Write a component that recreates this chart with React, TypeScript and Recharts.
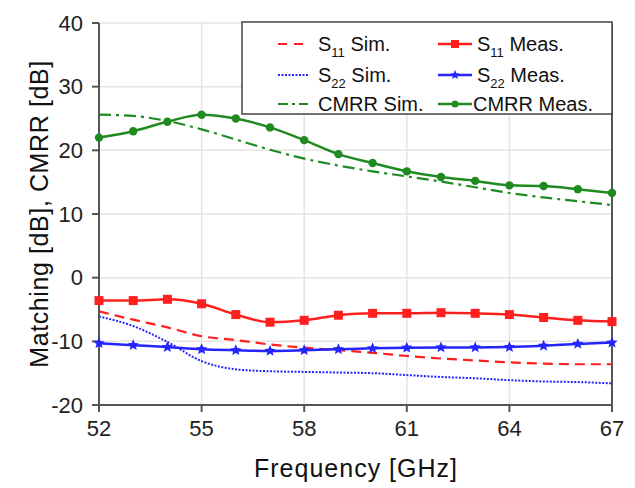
import { CartesianGrid, Line, LineChart, ReferenceLine, XAxis, YAxis } from "recharts";

const freqs = [52, 53, 54, 55, 56, 57, 58, 59, 60, 61, 62, 63, 64, 65, 66, 67];
const s11Sim = [-5.3, -6.6, -7.8, -9.2, -9.8, -10.5, -11.0, -11.4, -11.8, -12.3, -12.7, -13.0, -13.3, -13.5, -13.6, -13.6];
const s11Meas = [-3.6, -3.6, -3.4, -4.1, -5.8, -7.0, -6.7, -5.9, -5.6, -5.6, -5.5, -5.6, -5.8, -6.25, -6.7, -6.9];
const s22Sim = [-6.1, -7.6, -10.1, -13.1, -14.4, -14.7, -14.8, -14.9, -15.0, -15.3, -15.6, -15.8, -16.1, -16.3, -16.4, -16.6];
const s22Meas = [-10.3, -10.6, -10.9, -11.25, -11.4, -11.5, -11.4, -11.25, -11.1, -11.0, -10.95, -10.95, -10.9, -10.7, -10.4, -10.2];
const cmrrSim = [25.6, 25.4, 24.6, 23.3, 21.7, 20.1, 18.7, 17.6, 16.7, 15.9, 15.1, 14.2, 13.3, 12.6, 12.0, 11.4];
const cmrrMeas = [22.0, 23.0, 24.5, 25.6, 25.0, 23.6, 21.6, 19.4, 18.0, 16.7, 15.8, 15.2, 14.5, 14.4, 13.9, 13.3];

const xTicks = [52, 55, 58, 61, 64, 67];
const yTicks = [-20, -10, 0, 10, 20, 30, 40];

const data = freqs.map((f, i) => ({
  f,
  s11Sim: s11Sim[i],
  s11Meas: s11Meas[i],
  s22Sim: s22Sim[i],
  s22Meas: s22Meas[i],
  cmrrSim: cmrrSim[i],
  cmrrMeas: cmrrMeas[i],
}));

const RED = "#ff1f1f";
const BLUE = "#2424ff";
const GREEN = "#1f8a1f";
const FONT = "Liberation Sans, Arial, sans-serif";

const starPoints = (cx: number, cy: number, r: number) => {
  const pts: string[] = [];
  for (let k = 0; k < 10; k++) {
    const rr = k % 2 === 0 ? r : r * 0.45;
    const a = -Math.PI / 2 + (k * Math.PI) / 5;
    pts.push(`${cx + rr * Math.cos(a)},${cy + rr * Math.sin(a)}`);
  }
  return pts.join(" ");
};

const SquareDot = (p: any) => <rect key={`sq${p.index}`} x={p.cx - 4.5} y={p.cy - 4.5} width={9} height={9} fill={RED} />;
const StarDot = (p: any) => <polygon key={`st${p.index}`} points={starPoints(p.cx, p.cy, 6)} fill={BLUE} />;
const CircleDot = (p: any) => <circle key={`ci${p.index}`} cx={p.cx} cy={p.cy} r={4.2} fill={GREEN} />;

const legendRows = [
  { y: 22, left: { main: "S", sub: "11", rest: " Sim.", color: RED, dash: "9 7", marker: "" }, right: { main: "S", sub: "11", rest: " Meas.", color: RED, dash: "", marker: "square" } },
  { y: 53, left: { main: "S", sub: "22", rest: " Sim.", color: BLUE, dash: "2 1.5", marker: "" }, right: { main: "S", sub: "22", rest: " Meas.", color: BLUE, dash: "", marker: "star" } },
  { y: 82, left: { main: "CMRR Sim.", sub: "", rest: "", color: GREEN, dash: "10 4 3 4", marker: "" }, right: { main: "CMRR Meas.", sub: "", rest: "", color: GREEN, dash: "", marker: "circle" } },
];

const LegendEntry = ({ e, x0, x1, tx, y }: any) => (
  <g>
    <line x1={x0} x2={x1} y1={y} y2={y} stroke={e.color} strokeWidth={e.marker ? 2.5 : 2} strokeDasharray={e.dash || undefined} />
    {e.marker === "square" && <rect x={(x0 + x1) / 2 - 4} y={y - 4} width={8} height={8} fill={e.color} />}
    {e.marker === "star" && <polygon points={starPoints((x0 + x1) / 2, y, 5)} fill={e.color} />}
    {e.marker === "circle" && <circle cx={(x0 + x1) / 2} cy={y} r={3.5} fill={e.color} />}
    <text x={tx} y={y + 7} fontSize={20} fill="#111" fontFamily={FONT}>
      {e.main}
      {e.sub && (
        <tspan fontSize={13} dy={6}>
          {e.sub}
        </tspan>
      )}
      {e.rest && <tspan dy={e.sub ? -6 : 0}>{e.rest}</tspan>}
    </text>
  </g>
);

export default function App() {
  return (
    <div style={{ position: "relative", width: 627, height: 480 }}>
      <LineChart width={627} height={472} data={data} margin={{ top: 15, right: 23, left: 0, bottom: 45 }}>
        <CartesianGrid stroke="#e4e4e4" strokeWidth={1.5} />
        <XAxis
          dataKey="f"
          type="number"
          domain={[52, 67]}
          ticks={xTicks}
          height={30}
          tickSize={7}
          tickMargin={8}
          stroke="#555"
          strokeWidth={2}
          tick={{ fontSize: 22, fill: "#222", fontFamily: FONT }}
        />
        <YAxis
          type="number"
          domain={[-20, 40]}
          ticks={yTicks}
          width={91}
          tickSize={7}
          tickMargin={9}
          stroke="#555"
          strokeWidth={2}
          tick={{ fontSize: 22, fill: "#222", fontFamily: FONT }}
        />
        <ReferenceLine x={67} stroke="#555" strokeWidth={2} />
        <Line type="monotone" dataKey="s11Sim" stroke={RED} strokeWidth={2.2} strokeDasharray="10 6" dot={false} isAnimationActive={false} />
        <Line type="monotone" dataKey="s22Sim" stroke={BLUE} strokeWidth={2} strokeDasharray="2 1.5" dot={false} isAnimationActive={false} />
        <Line type="monotone" dataKey="cmrrSim" stroke={GREEN} strokeWidth={2.2} strokeDasharray="12 5 3 5" dot={false} isAnimationActive={false} />
        <Line type="monotone" dataKey="s11Meas" stroke={RED} strokeWidth={2.5} dot={SquareDot} isAnimationActive={false} />
        <Line type="monotone" dataKey="s22Meas" stroke={BLUE} strokeWidth={2.5} dot={StarDot} isAnimationActive={false} />
        <Line type="monotone" dataKey="cmrrMeas" stroke={GREEN} strokeWidth={2.5} dot={CircleDot} isAnimationActive={false} />
      </LineChart>
      <svg width={627} height={480} style={{ position: "absolute", left: 0, top: 0, pointerEvents: "none" }}>
        <text x={348} y={469} textAnchor="middle" fontSize={25} letterSpacing={1} fill="#111" fontFamily={FONT}>
          Frequency [GHz]
        </text>
        <text
          x={0}
          y={0}
          transform="translate(40 206) rotate(-90)"
          textAnchor="middle"
          fontSize={25}
          letterSpacing={0.6}
          fill="#111"
          fontFamily={FONT}
        >
          Matching [dB], CMRR [dB]
        </text>
        <g transform="translate(234 14)">
          <rect x={0} y={0} width={370} height={92} fill="#fff" stroke="#444" strokeWidth={1.5} />
          {legendRows.map((r, i) => (
            <g key={i}>
              <LegendEntry e={r.left} x0={36} x1={66} tx={76} y={r.y} />
              <LegendEntry e={r.right} x0={196} x1={230} tx={r.right.sub ? 235 : 231} y={r.y} />
            </g>
          ))}
        </g>
      </svg>
    </div>
  );
}
